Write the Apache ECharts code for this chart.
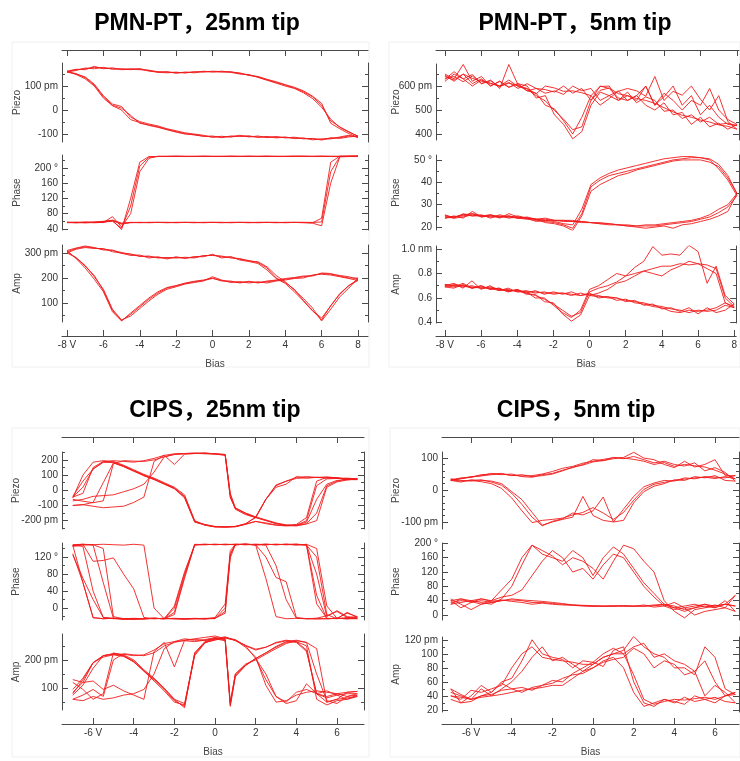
<!DOCTYPE html>
<html><head><meta charset="utf-8">
<script src="https://cdn.jsdelivr.net/npm/echarts@6/dist/echarts.min.js"></script>
<style>html,body{margin:0;padding:0;background:#fff}#c{width:740px;height:761px}</style>
</head><body><div id="c"></div>
<script>
// ---------------- DATA ----------------
// Bias sweeps (V): forward then backward
const pmnBias = [-8,-7.5,-7,-6.5,-6,-5.5,-5,-4.5,-4,-3.5,-3,-2.5,-2,-1.5,-1,-0.5,0,0.5,1,1.5,2,2.5,3,3.5,4,4.5,5,5.5,6,6.5,7,7.5,8,
  7.5,7,6.5,6,5.5,5,4.5,4,3.5,3,2.5,2,1.5,1,0.5,0,-0.5,-1,-1.5,-2,-2.5,-3,-3.5,-4,-4.5,-5,-5.5,-6,-6.5,-7,-7.5,-8];
const cips25Bias = [-7,-6.5,-6,-5.5,-5,-4.5,-4,-3.5,-3,-2.5,-2,-1.5,-1,-0.5,0,0.5,0.75,1,1.5,2,2.5,3,3.5,4,4.5,5,5.5,6,6.5,7,
  6.5,6,5.5,5,4.5,4,3.5,3,2.5,2,1.5,1,0.5,0,-0.5,-1,-1.5,-2,-2.5,-3,-3.5,-4,-4.5,-5,-5.5,-6,-6.5,-7];
const cips5Bias = [-7,-6.5,-6,-5.5,-5,-4.5,-4,-3.5,-3,-2.5,-2,-1.5,-1,-0.5,0,0.5,1,1.5,2,2.5,3,3.5,4,4.5,5,5.5,6,6.5,7,
  6.5,6,5.5,5,4.5,4,3.5,3,2.5,2,1.5,1,0.5,0,-0.5,-1,-1.5,-2,-2.5,-3,-3.5,-4,-4.5,-5,-5.5,-6,-6.5,-7];

// PMN-PT, 25nm tip
const pmn25PiezoA = [160,168,172,178,175,172,170,172,170,165,160,158,156,157,158,160,160,158,160,152,146,138,126,115,104,92,76,55,20,-45,-70,-90,-110,
  -108,-115,-118,-122,-120,-118,-116,-114,-113,-112,-112,-110,-108,-110,-112,-111,-108,-104,-98,-90,-80,-70,-62,-55,-22,8,20,55,104,135,152,160];
const pmn25PiezoB = [158,165,175,172,178,170,172,168,173,162,158,155,158,154,160,158,162,160,157,150,148,136,124,112,100,90,72,48,12,-38,-72,-92,-108,
  -112,-118,-115,-125,-118,-120,-113,-116,-110,-115,-108,-112,-105,-113,-109,-114,-105,-100,-95,-86,-78,-66,-58,-48,-30,15,25,60,108,138,150,158];
const pmn25PiezoC = [162,170,168,182,172,176,168,170,168,166,157,160,153,158,155,162,158,162,158,155,144,140,128,118,106,95,80,58,28,-55,-78,-98,-114,
  -105,-112,-120,-120,-124,-116,-119,-112,-116,-110,-114,-107,-110,-108,-115,-108,-110,-102,-100,-92,-82,-72,-64,-52,-40,0,18,50,100,130,148,162];
const pmn25PhaseA = [57,57,58,57,60,62,52,57,57,57,57,57,57,57,57,57,57,57,57,57,57,57,57,57,57,57,57,57,58,190,230,231,231,
  231,231,230,231,231,230,231,231,230,231,231,230,231,231,230,231,231,230,231,231,231,230,228,205,100,42,60,58,57,57,57,57];
const pmn25PhaseB = [57,56,57,58,58,63,55,57,56,57,57,56,57,57,56,57,57,56,57,57,56,57,57,56,57,57,56,55,48,160,229,230,230,
  230,230,231,230,230,231,230,230,231,230,230,231,230,230,231,230,230,231,230,230,230,231,225,190,80,45,72,57,57,56,57,57];
const pmn25PhaseC = [56,57,56,57,59,61,54,56,57,56,57,57,56,57,57,56,57,57,56,57,57,56,57,57,56,57,57,56,68,215,231,230,231,
  231,230,230,231,230,231,231,230,230,231,230,231,230,231,230,230,231,230,230,231,230,230,230,215,120,38,62,57,56,57,56,57];
const pmn25AmpA = [305,318,325,320,315,310,302,295,288,285,282,280,282,280,283,288,292,285,283,275,270,262,240,200,182,155,110,70,32,90,135,170,195,
  205,210,215,218,210,205,200,195,190,185,182,185,182,185,190,198,190,185,178,168,160,140,115,85,55,30,70,150,210,248,280,305];
const pmn25AmpB = [300,315,322,318,318,305,300,290,292,280,285,276,285,278,286,285,295,280,286,272,266,258,232,198,178,145,108,68,40,88,138,170,190,
  198,205,212,215,212,200,198,192,188,180,185,180,186,182,192,205,188,182,176,165,155,135,108,78,48,32,75,155,205,250,282,300];
const pmn25AmpC = [310,320,328,322,312,312,298,296,286,288,280,282,280,283,280,290,290,288,280,278,268,265,245,210,185,152,118,80,28,75,125,160,200,
  200,208,218,220,208,208,202,198,192,188,180,187,180,188,188,200,192,187,180,170,162,145,120,90,60,28,65,145,195,240,278,310];

// PMN-PT, 5nm tip
const pmn5PiezoA = [640,625,650,632,620,612,600,625,598,588,560,538,498,462,418,430,540,582,592,568,560,548,540,528,510,492,478,470,458,450,438,432,420,
  452,560,500,545,600,562,578,540,640,558,580,590,578,548,520,560,572,580,578,592,600,568,590,602,612,598,622,610,642,618,640,632];
const pmn5PiezoB = [628,660,630,648,610,625,590,690,605,580,570,520,505,455,400,470,560,598,600,540,575,530,555,540,495,500,465,480,450,470,440,445,435,
  440,470,520,480,560,520,600,555,520,600,560,540,550,590,600,540,590,570,600,575,585,590,580,610,595,620,600,630,610,650,620,645];
const pmn5PiezoC = [650,630,690,620,640,600,620,595,610,600,550,560,480,440,380,410,520,575,560,580,540,560,520,500,530,480,490,440,470,430,445,420,440,
  460,500,590,520,540,500,540,570,520,600,540,560,540,560,540,590,580,600,565,580,570,590,610,590,615,600,610,625,600,630,650,620];
const pmn5PhaseA = [25,24.5,25.5,26,25,24.5,24.5,25,24,23.5,23,22.5,22,21,19.5,26,38,41,43,44,45,46,47,48,49,50,50.5,51,51,50,46,41,34,
  29,26.5,24.5,23.5,22.5,22,21.5,21,20.5,20.5,20.5,21,21,21.5,22,22,22.5,22.5,23,23,23,23.5,24,24,24.5,24.5,25,25,25.5,24.5,24,24.5];
const pmn5PhaseB = [24,25,24,27,24.5,25.5,24,26,24.5,24,23.5,22,21.5,20.5,18.5,25,36,39,41,43,44,45.5,46.5,47.5,48.5,49.5,50,50,50,49,47,42,35,
  27,25,23.5,22.5,21.5,21,19.5,20.5,20,19.5,20,20.5,21,21,21.5,22,22,22.5,22.5,23,23.5,23.5,24,24.5,24,25,25,24.5,26,25,24.5,24];
const pmn5PhaseC = [25.5,24,26,25,25.5,24,25.5,24.5,25,24,22.5,23,22.5,21.5,21,28,39,42,44,45.5,46.5,47.5,48.5,49.5,50.5,51,51.5,51.5,51,50.5,48,43,35,
  30,28,25.5,24,23,22.5,22,21.5,21,21,20.5,20.5,21,21.5,21.5,22,22.5,23,23,23,24,23.5,24.5,24,25,24.5,25.5,25,25,25.5,24.5,25];
const pmn5AmpA = [0.71,0.70,0.69,0.70,0.68,0.69,0.67,0.66,0.66,0.64,0.62,0.59,0.55,0.50,0.45,0.48,0.65,0.68,0.70,0.73,0.78,0.80,0.82,0.84,0.86,0.86,0.88,0.87,0.88,0.84,0.80,0.56,0.52,
  0.54,0.50,0.49,0.50,0.48,0.50,0.51,0.53,0.54,0.56,0.57,0.58,0.60,0.60,0.62,0.63,0.62,0.63,0.64,0.64,0.64,0.65,0.65,0.66,0.66,0.67,0.68,0.68,0.69,0.70,0.70,0.71];
const pmn5AmpB = [0.70,0.72,0.68,0.74,0.67,0.70,0.66,0.68,0.65,0.65,0.60,0.60,0.54,0.48,0.44,0.50,0.67,0.70,0.75,0.80,0.78,0.85,0.90,1.02,0.95,0.96,0.95,1.03,0.98,0.72,0.86,0.62,0.55,
  0.50,0.48,0.52,0.47,0.52,0.49,0.52,0.51,0.55,0.54,0.58,0.57,0.60,0.61,0.60,0.64,0.62,0.65,0.63,0.65,0.63,0.66,0.64,0.67,0.65,0.68,0.67,0.70,0.68,0.72,0.69,0.70];
const pmn5AmpC = [0.69,0.68,0.71,0.68,0.70,0.67,0.68,0.65,0.67,0.63,0.63,0.57,0.56,0.47,0.41,0.46,0.62,0.64,0.67,0.72,0.74,0.78,0.82,0.80,0.78,0.83,0.86,0.90,0.88,0.87,0.84,0.60,0.53,
  0.56,0.52,0.50,0.49,0.50,0.48,0.49,0.52,0.53,0.55,0.56,0.59,0.58,0.61,0.61,0.62,0.64,0.62,0.64,0.63,0.65,0.64,0.66,0.65,0.67,0.66,0.68,0.69,0.68,0.70,0.71,0.69];

// CIPS, 25nm tip
const cips25PiezoA = [-45,20,140,185,195,190,185,195,210,230,240,242,245,243,240,235,-40,-125,-160,-180,-200,-220,-230,-230,-210,-60,40,65,70,72,
  75,80,82,85,82,78,60,35,-60,-180,-220,-238,-242,-240,-228,-205,-40,15,45,75,100,130,160,185,190,150,-20,-45];
const cips25PiezoB = [-60,-72,-82,-70,175,195,192,190,200,220,235,240,242,245,240,232,-30,-118,-150,-175,-195,-215,-228,-232,-220,-150,30,60,75,78,
  72,82,88,85,80,90,40,20,-60,-175,-222,-240,-242,-238,-225,-210,-50,10,40,70,95,128,158,182,185,140,60,-40];
const cips25PiezoC = [-70,-60,-40,-35,-30,-10,10,40,120,220,238,242,244,240,238,230,-50,-120,-155,-180,-60,30,60,85,90,85,80,82,75,70,
  70,80,85,60,-180,-225,-232,-228,-215,-205,-225,-240,-242,-240,-228,-200,-30,20,50,80,105,135,165,190,195,185,100,-50];
const cips25PiezoD = [-100,-95,-105,-115,-110,-105,-80,-45,190,230,170,238,242,245,240,236,-20,-115,-150,-178,-198,-218,-232,-235,-222,-200,20,55,68,75,
  80,78,75,30,-200,-230,-235,-230,-220,-205,-222,-238,-240,-242,-230,-208,-45,12,42,72,98,125,155,180,50,-80,-95,-100];
const cips25PhaseA = [128,60,-22,-25,-24,-25,-26,-25,-24,-25,-25,-26,-25,-25,-24,-8,118,149,150,149,150,149,150,149,149,80,-20,-6,-20,-24,
  -25,-24,-25,-26,-25,-24,-25,-20,70,148,150,149,150,149,150,149,85,5,-25,-24,-25,-25,-26,-25,-22,40,145,148];
const cips25PhaseB = [148,150,149,140,-20,-25,-24,-25,-25,-24,-25,-25,-24,-25,-22,10,135,150,149,150,149,150,149,150,148,120,-15,-25,-10,-22,
  -25,-24,-25,-24,-25,-22,62,72,120,149,150,150,149,150,149,148,75,-10,-25,-24,-25,-26,-25,-24,-22,20,70,125];
const cips25PhaseC = [149,150,110,112,118,80,45,-22,-25,-24,-25,-26,-25,-24,-25,0,125,149,150,149,148,100,20,-24,-25,-24,-18,-8,-22,-25,
  -25,-24,-25,30,149,150,150,149,150,149,150,149,150,149,150,149,80,0,-25,-24,-25,-26,-25,-24,-25,-23,60,148];
const cips25PhaseD = [145,148,149,150,149,148,150,148,0,-25,-24,-25,-25,-26,-24,-12,128,149,150,149,150,149,150,148,150,140,5,-24,-12,-20,
  -22,-25,-24,10,148,150,149,150,149,150,149,150,149,150,149,150,70,-15,-25,-24,-25,-25,-26,-24,60,148,150,146];
const cips25AmpA = [80,130,190,215,222,220,215,218,235,258,265,268,265,270,275,268,35,140,180,205,225,245,262,265,250,60,40,55,60,75,
  70,80,85,90,85,75,55,50,110,210,245,270,278,275,260,215,45,60,100,135,165,200,218,222,215,190,120,85];
const cips25AmpB = [60,75,95,70,200,222,218,215,225,250,262,270,272,268,278,270,45,150,185,200,220,240,258,268,262,150,55,45,70,80,
  80,75,90,80,95,85,50,70,130,205,250,272,280,270,262,220,35,55,95,130,160,195,215,220,215,170,110,75];
const cips25AmpC = [60,55,70,60,65,75,80,95,150,240,265,275,270,272,280,272,40,145,180,205,150,70,45,55,115,80,65,75,60,70,
  65,60,50,80,235,265,270,262,245,235,250,270,278,272,262,225,40,50,90,125,160,195,212,218,210,190,135,95];
const cips25AmpD = [130,120,125,95,110,90,75,60,230,262,175,270,275,280,285,275,50,150,182,205,225,248,265,270,262,240,50,60,85,88,
  85,80,70,80,230,262,268,260,245,238,252,268,282,276,265,225,30,60,98,132,162,192,215,225,80,60,95,120];

// CIPS, 5nm tip
const cips5PiezoA = [32,28,30,26,20,5,-25,-65,-102,-95,-92,-88,-78,-70,-55,-72,-92,-70,-32,2,18,24,30,34,38,40,36,42,35,
  50,62,72,76,80,74,86,80,90,96,100,101,96,90,84,74,68,58,50,45,44,46,50,48,44,42,36,33];
const cips5PiezoB = [30,25,32,30,28,20,-5,-30,-70,-110,-100,-92,-85,-20,-80,-95,-100,-60,-20,10,22,30,28,38,35,42,40,38,45,
  45,95,80,72,90,70,80,95,100,118,102,98,92,95,80,70,62,52,48,40,42,50,48,52,45,40,35,30];
const cips5PiezoC = [35,30,28,32,25,15,-10,-45,-85,-112,-98,-90,-72,-78,-65,-22,-100,-95,-40,-5,12,20,32,30,42,38,45,30,28,
  55,70,60,85,75,80,90,85,95,105,98,102,92,88,78,72,60,50,45,42,48,45,52,50,48,40,38,30];
const cips5PhaseA = [40,20,35,45,40,70,100,160,195,170,160,150,180,160,110,160,190,170,130,90,60,30,20,10,20,25,20,30,25,
  30,25,30,20,15,25,30,28,25,25,26,25,24,25,26,28,30,32,35,35,40,42,40,35,40,35,45,40];
const cips5PhaseB = [30,45,40,35,30,45,80,140,195,180,165,140,160,150,130,100,150,195,185,150,120,40,10,-8,15,20,25,30,55,
  20,28,22,30,25,20,28,26,24,25,24,26,25,24,25,27,28,30,33,30,35,38,42,38,45,40,35,30];
const cips5PhaseC = [45,30,15,30,40,50,55,70,110,150,180,160,120,130,100,140,170,160,120,80,50,25,15,20,0,10,15,20,10,
  40,20,30,25,20,35,25,22,28,24,26,24,25,26,27,28,32,35,38,40,42,45,40,35,30,38,40,35];
const cips5AmpA = [40,35,48,45,50,55,80,100,110,95,92,90,88,85,85,95,100,100,70,35,28,32,35,34,36,38,35,40,42,
  50,95,110,70,80,80,95,100,110,125,105,100,95,85,75,65,55,55,52,50,48,45,42,40,38,35,38,40];
const cips5AmpB = [50,30,40,55,45,60,65,90,120,100,95,92,80,90,88,82,105,110,60,30,25,35,30,38,32,35,30,40,45,
  40,60,90,75,85,90,100,95,115,110,100,108,100,88,80,72,60,62,55,48,52,50,58,45,40,35,42,50];
const cips5AmpC = [45,40,35,50,40,50,60,75,95,110,90,95,85,75,80,90,95,80,45,25,30,35,32,28,40,35,38,32,30,
  45,55,40,75,70,85,90,80,100,108,95,92,88,80,72,70,65,58,55,52,45,50,48,42,40,32,30,35];

// Tick values and labels
const pmnBiasTicks = [-8,-6,-4,-2,0,2,4,6,8];
const pmnBiasLabels = ['-8 V','-6','-4','-2','0','2','4','6','8'];
const cipsBiasTicks = [-6,-4,-2,0,2,4,6];
const cipsBiasLabels = ['-6 V','-4','-2','0','2','4','6'];

const pmn25PiezoTicks = [100,0,-100], pmn25PiezoLabels = ['100 pm','0','-100'], pmn25PiezoMinor = [150,50,-50];
const pmn25PhaseTicks = [200,160,120,80,40], pmn25PhaseLabels = ['200 °','160','120','80','40'], pmn25PhaseMinor = [220,180,140,100,60];
const pmn25AmpTicks = [300,200,100], pmn25AmpLabels = ['300 pm','200','100'], pmn25AmpMinor = [250,150,50];

const pmn5PiezoTicks = [600,500,400], pmn5PiezoLabels = ['600 pm','500','400'], pmn5PiezoMinor = [650,550,450];
const pmn5PhaseTicks = [50,40,30,20], pmn5PhaseLabels = ['50 °','40','30','20'], pmn5PhaseMinor = [45,35,25];
const pmn5AmpTicks = [1.0,0.8,0.6,0.4], pmn5AmpLabels = ['1.0 nm','0.8','0.6','0.4'], pmn5AmpMinor = [0.9,0.7,0.5];

const cips25PiezoTicks = [200,100,0,-100,-200], cips25PiezoLabels = ['200','100','0','-100','-200 pm'], cips25PiezoMinor = [250,150,50,-50,-150,-250];
const cips25PhaseTicks = [120,80,40,0], cips25PhaseLabels = ['120 °','80','40','0'], cips25PhaseMinor = [140,100,60,20,-20];
const cips25AmpTicks = [200,100], cips25AmpLabels = ['200 pm','100'], cips25AmpMinor = [250,150,50];

const cips5PiezoTicks = [100,0,-100], cips5PiezoLabels = ['100','0','-100 pm'], cips5PiezoMinor = [80,60,40,20,-20,-40,-60,-80];
const cips5PhaseTicks = [200,160,120,80,40,0], cips5PhaseLabels = ['200 °','160','120','80','40','0'], cips5PhaseMinor = [180,140,100,60,20];
const cips5AmpTicks = [120,100,80,60,40,20], cips5AmpLabels = ['120 pm','100','80','60','40','20'], cips5AmpMinor = [110,90,70,50,30];

// ---------------- CHART ----------------
const RED = '#f21c1c';
const AX = '#4a4a4a';
const FONT = '"Liberation Sans", Arial, "Noto Sans CJK SC", sans-serif';
const option = {animation:false, backgroundColor:'#ffffff', grid:[], xAxis:[], yAxis:[], series:[], graphic:[]};

function labelMap(ticks, labels){ const m = {}; ticks.forEach((t,i)=>{ m[String(t)] = labels[i]; }); return v => { const k = Object.keys(m).find(key => Math.abs(+key - v) < 1e-6); return k !== undefined ? m[k] : ''; }; }

function addPanel(p){
  p.subs.forEach((s, k) => {
    const gi = option.grid.length;
    option.grid.push({left:p.left, top:s.top, width:p.right-p.left, height:s.bottom-s.top});
    const xi = option.xAxis.length;
    const xa = {type:'value', gridIndex:gi, min:p.xMin, max:p.xMax, splitLine:{show:false},
      axisLine:{show:false, onZero:false}, axisTick:{show:false}, axisLabel:{show:false}};
    if (k === 0) {
      Object.assign(xa, {position:'top', offset:s.top - p.topAxisY,
        axisLine:{show:true, onZero:false, lineStyle:{color:AX, width:1}},
        axisTick:{show:true, inside:true, length:6, customValues:p.xTicks, lineStyle:{color:AX}}});
    }
    if (k === p.subs.length - 1) {
      Object.assign(xa, {position:'bottom', offset:p.bottomAxisY - s.bottom,
        axisLine:{show:true, onZero:false, lineStyle:{color:AX, width:1}},
        axisTick:{show:true, inside:true, length:6, customValues:p.xTicks, lineStyle:{color:AX}},
        axisLabel:{show:true, customValues:p.xTicks, formatter:labelMap(p.xTicks, p.xLabels), color:'#333', fontSize:10, fontFamily:FONT, margin:4},
        name:'Bias', nameLocation:'middle', nameGap:23, nameMoveOverlap:false, nameTextStyle:{color:'#444', fontSize:10, fontFamily:FONT}});
    }
    option.xAxis.push(xa);
    const yi = option.yAxis.length;
    const base = {type:'value', gridIndex:gi, min:s.min, max:s.max, splitLine:{show:false}};
    option.yAxis.push(Object.assign({}, base, {position:'left',
      axisLine:{show:true, onZero:false, lineStyle:{color:AX, width:1}},
      axisTick:{show:true, inside:true, length:6, customValues:s.ticks, lineStyle:{color:AX}},
      axisLabel:{show:true, customValues:s.ticks, formatter:labelMap(s.ticks, s.labels), color:'#333', fontSize:10, fontFamily:FONT, margin:4},
      name:s.name, nameLocation:'middle', nameRotate:90, nameGap:p.nameGap, nameMoveOverlap:false, nameTextStyle:{color:'#444', fontSize:10, fontFamily:FONT}}));
    option.yAxis.push(Object.assign({}, base, {position:'left',
      axisLine:{show:false, onZero:false}, axisLabel:{show:false},
      axisTick:{show:true, inside:true, length:3, customValues:s.minor, lineStyle:{color:AX}}}));
    option.yAxis.push(Object.assign({}, base, {position:'right',
      axisLine:{show:true, onZero:false, lineStyle:{color:AX, width:1}}, axisLabel:{show:false},
      axisTick:{show:true, inside:true, length:6, customValues:s.ticks, lineStyle:{color:AX}}}));
    option.yAxis.push(Object.assign({}, base, {position:'right',
      axisLine:{show:false, onZero:false}, axisLabel:{show:false},
      axisTick:{show:true, inside:true, length:3, customValues:s.minor, lineStyle:{color:AX}}}));
    s.loops.forEach(loop => {
      option.series.push({type:'line', xAxisIndex:xi, yAxisIndex:yi, silent:true, showSymbol:false, symbol:'none',
        lineStyle:{color:RED, width:0.9}, data:p.bias.map((b,i)=>[b, loop[i]])});
    });
  });
  option.graphic.push({type:'rect', silent:true, shape:{x:p.frame[0], y:p.frame[1], width:p.frame[2]-p.frame[0], height:p.frame[3]-p.frame[1]},
    style:{fill:'none', stroke:'#f0f0f0', lineWidth:1}, z:-1});
  option.graphic.push({type:'text', silent:true, style:{x:p.titleX, y:p.titleY, text:p.title, textAlign:'center', textVerticalAlign:'middle',
    font:'bold 23px ' + FONT, fill:'#000'}});
}

addPanel({title:'PMN-PT，25nm tip', titleX:197, titleY:24, frame:[12,42,369,367],
  left:62, right:368, xMin:-8.275, xMax:8.55, topAxisY:50, bottomAxisY:336, nameGap:40,
  bias:pmnBias, xTicks:pmnBiasTicks, xLabels:pmnBiasLabels,
  subs:[
    {name:'Piezo', top:63, bottom:142, min:-133, max:196, ticks:pmn25PiezoTicks, labels:pmn25PiezoLabels, minor:pmn25PiezoMinor, loops:[pmn25PiezoA,pmn25PiezoB,pmn25PiezoC]},
    {name:'Phase', top:155, bottom:230, min:37, max:234, ticks:pmn25PhaseTicks, labels:pmn25PhaseLabels, minor:pmn25PhaseMinor, loops:[pmn25PhaseA,pmn25PhaseB,pmn25PhaseC]},
    {name:'Amp', top:245, bottom:322, min:24, max:332, ticks:pmn25AmpTicks, labels:pmn25AmpLabels, minor:pmn25AmpMinor, loops:[pmn25AmpA,pmn25AmpB,pmn25AmpC]}
  ]});
addPanel({title:'PMN-PT，5nm tip', titleX:575, titleY:24, frame:[389,42,740,367],
  left:436, right:739, xMin:-8.49, xMax:8.11, topAxisY:50, bottomAxisY:336, nameGap:35,
  bias:pmnBias, xTicks:pmnBiasTicks, xLabels:pmnBiasLabels,
  subs:[
    {name:'Piezo', top:64, bottom:140, min:375, max:692, ticks:pmn5PiezoTicks, labels:pmn5PiezoLabels, minor:pmn5PiezoMinor, loops:[pmn5PiezoA,pmn5PiezoB,pmn5PiezoC]},
    {name:'Phase', top:155, bottom:230, min:18.7, max:52.2, ticks:pmn5PhaseTicks, labels:pmn5PhaseLabels, minor:pmn5PhaseMinor, loops:[pmn5PhaseA,pmn5PhaseB,pmn5PhaseC]},
    {name:'Amp', top:246, bottom:323, min:0.395, max:1.025, ticks:pmn5AmpTicks, labels:pmn5AmpLabels, minor:pmn5AmpMinor, loops:[pmn5AmpA,pmn5AmpB,pmn5AmpC]}
  ]});
addPanel({title:'CIPS，25nm tip', titleX:215, titleY:411, frame:[12,428,369,757],
  left:62, right:364, xMin:-7.53, xMax:7.33, topAxisY:437, bottomAxisY:724, nameGap:41,
  bias:cips25Bias, xTicks:cipsBiasTicks, xLabels:cipsBiasLabels,
  subs:[
    {name:'Piezo', top:452, bottom:529, min:-255, max:252, ticks:cips25PiezoTicks, labels:cips25PiezoLabels, minor:cips25PiezoMinor, loops:[cips25PiezoA,cips25PiezoB,cips25PiezoC,cips25PiezoD]},
    {name:'Phase', top:543, bottom:620, min:-28, max:153, ticks:cips25PhaseTicks, labels:cips25PhaseLabels, minor:cips25PhaseMinor, loops:[cips25PhaseA,cips25PhaseB,cips25PhaseC,cips25PhaseD]},
    {name:'Amp', top:634, bottom:710, min:22, max:292, ticks:cips25AmpTicks, labels:cips25AmpLabels, minor:cips25AmpMinor, loops:[cips25AmpA,cips25AmpB,cips25AmpC,cips25AmpD]}
  ]});
addPanel({title:'CIPS，5nm tip', titleX:576, titleY:411, frame:[390,428,740,757],
  left:442, right:739, xMin:-7.43, xMax:7.18, topAxisY:437, bottomAxisY:724, nameGap:41,
  bias:cips5Bias, xTicks:cipsBiasTicks, xLabels:cipsBiasLabels,
  subs:[
    {name:'Piezo', top:452, bottom:529, min:-122, max:119, ticks:cips5PiezoTicks, labels:cips5PiezoLabels, minor:cips5PiezoMinor, loops:[cips5PiezoA,cips5PiezoB,cips5PiezoC]},
    {name:'Phase', top:543, bottom:620, min:-14, max:201, ticks:cips5PhaseTicks, labels:cips5PhaseLabels, minor:cips5PhaseMinor, loops:[cips5PhaseA,cips5PhaseB,cips5PhaseC]},
    {name:'Amp', top:637, bottom:712, min:17, max:124, ticks:cips5AmpTicks, labels:cips5AmpLabels, minor:cips5AmpMinor, loops:[cips5AmpA,cips5AmpB,cips5AmpC]}
  ]});

const chart = echarts.init(document.getElementById('c'), null, {renderer:'canvas'});
chart.setOption(option);
</script>
</body></html>
